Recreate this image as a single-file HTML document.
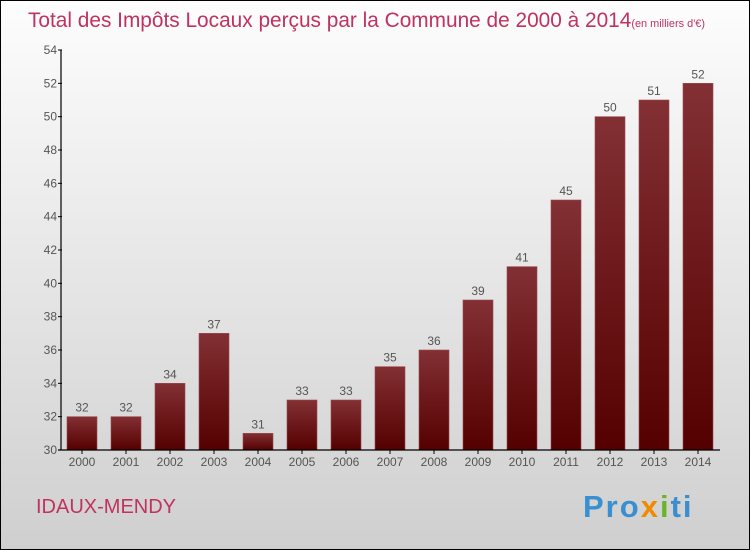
<!DOCTYPE html>
<html><head><meta charset="utf-8"><style>
body{margin:0;}
svg{display:block;font-family:"Liberation Sans",sans-serif;}
</style></head><body>
<svg id="c" width="750" height="550" xmlns="http://www.w3.org/2000/svg">
<defs>
<linearGradient id="bg" x1="0" y1="0" x2="0" y2="1"><stop offset="0" stop-color="#fdfdfd"/><stop offset="1" stop-color="#cfcfcf"/></linearGradient>
<linearGradient id="bar" x1="0" y1="0" x2="0" y2="1"><stop offset="0" stop-color="#833034"/><stop offset="1" stop-color="#550000"/></linearGradient>
</defs>
<rect x="0.5" y="0.5" width="749" height="549" fill="url(#bg)" stroke="#000"/>
<text x="28" y="27" font-size="21" fill="#c0325f" textLength="677" lengthAdjust="spacingAndGlyphs">Total des Impôts Locaux perçus par la Commune de 2000 à 2014<tspan font-size="11">(en milliers d'€)</tspan></text>
<text x="36" y="513" font-size="20" fill="#c0325f">IDAUX-MENDY</text>
<text x="583" y="517" font-size="31" font-weight="bold" fill="#3a8fd0" letter-spacing="2">Pro<tspan fill="#f08a00">x</tspan><tspan fill="#6ab42a">i</tspan><tspan fill="#3a8fd0">ti</tspan></text>
<g id="plot"></g>
</svg>
<script>
const years=["2000","2001","2002","2003","2004","2005","2006","2007","2008","2009","2010","2011","2012","2013","2014"];
const values=[32,32,34,37,31,33,33,35,36,39,41,45,50,51,52];
const yTicks=[30,32,34,36,38,40,42,44,46,48,50,52,54];
const NS="http://www.w3.org/2000/svg";
const g=document.getElementById('plot');
const yMin=30,yMax=54,y0=450,y1=50;
const ys=v=>y0-(v-yMin)/(yMax-yMin)*(y0-y1);
const xs=i=>82+i*44;
function mk(t,a,txt){const e=document.createElementNS(NS,t);for(const k in a)e.setAttribute(k,a[k]);if(txt!==undefined)e.textContent=txt;g.appendChild(e);return e;}
values.forEach((v,i)=>{
 const r=mk('rect',{x:xs(i)-15,y:ys(v),width:30,height:y0-ys(v),fill:'url(#bar)',stroke:'#9a4a4e','stroke-width':0.6});
 
 
 const t=mk('text',{x:xs(i),y:ys(v)-5,'font-size':12,fill:'#555','text-anchor':'middle'},String(v));
 
 
 const xl=mk('text',{x:xs(i),y:466,'font-size':12,fill:'#555','text-anchor':'middle'},years[i]);
 
 
 const tk=mk('line',{x1:xs(i),x2:xs(i),y1:y0,y2:y0+4,stroke:'#000'});
 
 
});
yTicks.forEach(v=>{
 const l=mk('line',{x1:58,x2:62,y1:ys(v),y2:ys(v),stroke:'#000'});
 
 
 const t=mk('text',{x:57,y:ys(v)+4,'font-size':12,fill:'#555','text-anchor':'end'},String(v));
 
 
});
const ya=mk('line',{x1:61,x2:61,y1:y1,y2:y0,stroke:'#000','stroke-width':1.2});


const xa=mk('line',{x1:58,x2:720,y1:y0,y2:y0,stroke:'#000','stroke-width':1.2});


</script>
</body></html>
